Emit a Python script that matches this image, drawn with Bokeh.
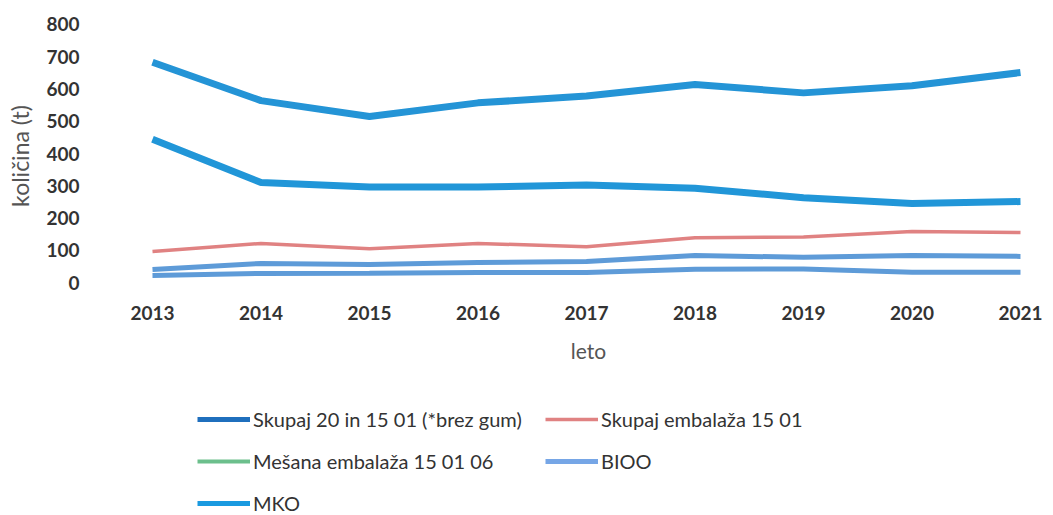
from bokeh.plotting import figure
from bokeh.layouts import column
from bokeh.models import Range1d, FixedTicker, Legend, LegendItem
from bokeh.embed import file_html
from bokeh.resources import INLINE

years = [2013, 2014, 2015, 2016, 2017, 2018, 2019, 2020, 2021]
skupaj_20_15 = [683, 564, 515, 557, 578, 614, 588, 610, 651]
skupaj_emb = [96, 121, 105, 121, 111, 139, 141, 158, 155]
mesana_emb = [22, 28, 29, 31, 31, 41, 42, 32, 32]
bioo = [40, 59, 56, 62, 65, 84, 78, 84, 81]
mko = [444, 310, 296, 296, 302, 292, 263, 245, 251]
y_ticks = [0, 100, 200, 300, 400, 500, 600, 700, 800]
labels = ["Skupaj 20 in 15 01 (*brez gum)", "Skupaj embalaža 15 01",
          "Mešana embalaža 15 01 06", "BIOO", "MKO"]

FONT = "Lato"
W = 1053

p = figure(width=W, height=380, output_backend="svg", toolbar_location=None,
           x_range=Range1d(2012.871, 2021.166), y_range=Range1d(-34.1, 818.6),
           min_border_left=138, min_border_right=15, min_border_top=18,
           min_border_bottom=87)
p.outline_line_color = None
p.grid.grid_line_color = None

for ax in (p.xaxis, p.yaxis):
    ax.axis_line_color = None
    ax.major_tick_line_color = None
    ax.minor_tick_line_color = None
    ax.major_tick_out = 0
    ax.major_label_text_font = FONT
    ax.major_label_text_font_style = "bold"
    ax.major_label_text_font_size = "19px"
    ax.major_label_text_color = "#333333"
    ax.axis_label_text_font = FONT
    ax.axis_label_text_font_style = "normal"
    ax.axis_label_text_color = "#555555"

p.xaxis.ticker = FixedTicker(ticks=years)
p.yaxis.ticker = FixedTicker(ticks=y_ticks)
p.xaxis.major_label_standoff = 12
p.yaxis.major_label_standoff = 59
p.xaxis.axis_label = "leto"
p.xaxis.axis_label_text_font_size = "21px"
p.xaxis.axis_label_standoff = 15
p.yaxis.axis_label = "količina (t)"
p.yaxis.axis_label_text_font_size = "23px"
p.yaxis.axis_label_standoff = 9

p.line(years, mesana_emb, line_color="#5e9bd8", line_width=5)
p.line(years, bioo, line_color="#5e9bd8", line_width=5)
p.line(years, skupaj_emb, line_color="#e08282", line_width=3.5)
p.line(years, mko, line_color="#2196d8", line_width=7)
p.line(years, skupaj_20_15, line_color="#2494d6", line_width=7)

# legend panel below the chart
lg = figure(width=W, height=135, output_backend="svg", toolbar_location=None,
            x_range=Range1d(2012.871, 2021.166), y_range=Range1d(-34.1, 818.6),
            x_axis_location=None, y_axis_location=None,
            min_border_left=0, min_border_right=0, min_border_top=0, min_border_bottom=0)
lg.outline_line_color = None
lg.grid.grid_line_color = None

series = [skupaj_20_15, skupaj_emb, mesana_emb, bioo, mko]
colors = ["#1f6fbd", "#e08282", "#6cbf8c", "#76a6e6", "#1a9ae0"]
widths = [5, 3.5, 4, 5, 5]
items = []
for lab, vals, col, w in zip(labels, series, colors, widths):
    r = lg.line(years, vals, line_color=col, line_width=w, visible=False)
    items.append(LegendItem(label=lab, renderers=[r]))

legend = Legend(items=items, orientation="horizontal", ncols=2, location=(59, 0),
                border_line_color=None, background_fill_alpha=0,
                label_text_font=FONT, label_text_font_size="20px",
                label_text_color="#333333",
                glyph_width=53, glyph_height=18, label_height=18, label_standoff=3,
                label_width=274, spacing=18, padding=0, margin=0)
lg.add_layout(legend, "center")

layout = column(p, lg, spacing=0)
open("out.html", "w").write(file_html(layout, INLINE))
